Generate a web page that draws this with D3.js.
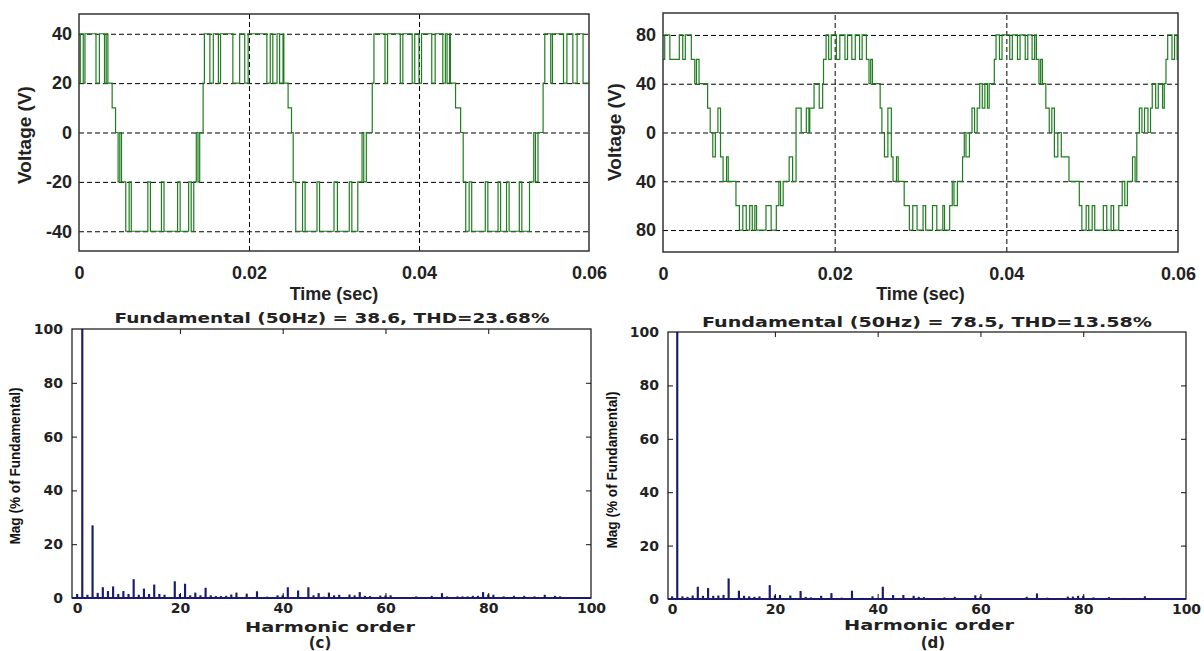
<!DOCTYPE html>
<html>
<head>
<meta charset="utf-8">
<script src="https://cdn.jsdelivr.net/npm/d3@7"></script>
<style>
body{margin:0;background:#fff}
svg{display:block}
</style>
</head>
<body>
<div id="fig"></div>
<script>
// ---- data ----
// time axis (ms internally, labelled in seconds)
var timeTicks = [0, 20, 40, 60];
var timeLabels = ["0", "0.02", "0.04", "0.06"];

// (a) 5-level output: [t ms, volts], step-after
var waveA = [
[0,20],[0.15,40],[0.5,20],[0.7,40],[2.0,20],[2.4,40],[3.0,20],[3.2,40],[3.4,20],
[3.9,10],[4.3,0],[4.6,-20],[4.8,0],[5.0,-20],[5.5,-40],[5.9,-20],[6.15,-40],
[8.1,-20],[8.4,-40],[9.7,-20],[10.0,-40],[11.6,-20],[11.9,-40],[12.9,-20],[13.2,-40],[13.5,-20],
[13.8,0],[14.0,-20],[14.2,0],[14.6,20],[14.75,40],[15.4,20],[15.8,40],[16.4,20],[16.65,40],
[18.1,20],[18.9,40],[19.5,20],[19.9,40],[22.1,20],[22.5,40],[22.8,20],[23.3,40],[23.6,20],[24.0,40],
[24.1,20],[24.6,10],[25.0,0],[25.2,-20],[25.5,-40],
[26.3,-20],[26.6,-40],[28.0,-20],[28.3,-40],[30.0,-20],[30.4,-40],[31.8,-20],[32.1,-40],[32.8,-20],
[33.3,0],[33.5,-20],[33.8,0],[34.5,20],[34.7,40],
[36.0,20],[36.3,40],[37.8,20],[38.1,40],[39.2,20],[39.5,40],[40.0,20],[40.3,40],[41.5,20],[41.9,40],
[42.8,20],[43.1,40],[43.3,20],[43.6,40],[43.7,20],[44.3,10],[44.9,0],[45.2,-20],[45.5,-40],
[45.9,-20],[46.2,-40],[47.8,-20],[48.1,-40],[49.3,-20],[49.6,-40],[50.3,-20],[50.6,-40],[51.8,-20],
[52.1,-40],[53.0,-20],[53.5,0],[53.7,-20],[54.0,0],[54.6,20],[54.8,40],
[55.5,20],[55.7,40],[57.0,20],[57.4,40],[58.1,20],[58.6,40],[59.3,20],[60,20]
];
var voltTicksA = [40, 20, 0, -20, -40];
var voltLabelsA = ["40", "20", "0", "-20", "-40"];

// (b) 9-level output: [t ms, volts], step-after
var waveB = [
[0,60],[0.2,80],[0.8,60],[1.9,80],[2.3,60],[2.6,80],[3.3,60],[3.7,40],[3.9,60],[4.2,40],
[5.2,20],[5.5,0],[5.8,-20],[6.1,0],[6.4,20],[6.7,-20],[7.0,-40],[7.4,-20],[7.6,-40],
[8.5,-60],[8.9,-80],[9.3,-60],[9.7,-80],[10.1,-60],[10.4,-80],[10.7,-60],[10.9,-80],[12.0,-60],
[12.6,-80],[13.2,-60],[13.5,-40],[13.7,-60],[14.0,-40],[14.7,-20],[15.1,-40],[15.5,20],[16.1,0],
[16.7,20],[17.0,0],[17.1,20],[17.6,40],[18.2,20],[18.6,40],[18.7,60],[19.0,80],[19.3,60],[19.6,80],
[20.2,60],[20.6,80],[21.2,60],[21.5,80],[22.0,60],[22.4,80],[22.9,60],[23.2,80],[23.7,60],
[24.0,40],[24.2,60],[24.4,40],[25.3,20],[25.5,0],[25.8,-20],[26.2,20],[26.6,-20],[26.8,-40],
[27.2,-20],[27.4,-40],[28.1,-60],[28.7,-80],[29.1,-60],[29.6,-80],[30.3,-60],[30.6,-80],[31.4,-60],
[31.9,-80],[32.6,-60],[32.8,-80],[33.4,-60],[33.7,-40],[33.9,-60],[34.3,-40],[34.9,-20],[35.1,0],
[35.3,-20],[35.7,0],[36.0,20],[36.3,0],[36.6,20],[36.9,40],[37.2,20],[37.5,40],[37.8,20],[38.0,40],
[38.6,60],[38.8,80],[39.2,60],[39.5,80],[40.4,60],[40.7,80],[41.3,60],[41.6,80],[42.2,60],[42.5,80],
[43.0,60],[43.3,80],[43.5,60],[43.8,40],[44.0,60],[44.2,40],[44.6,20],[45.0,0],[45.3,20],[45.6,-20],
[46.0,0],[46.4,-20],[47.3,-40],[48.5,-60],[48.8,-80],[49.3,-60],[49.6,-80],[50.0,-60],[50.3,-80],
[51.3,-60],[51.7,-80],[52.2,-60],[52.5,-80],[53.1,-60],[53.5,-40],[53.8,-60],[54.1,-40],[54.7,-20],
[55.0,-40],[55.2,0],[55.5,20],[55.8,0],[56.1,20],[56.5,0],[56.8,20],[57.0,40],[57.4,20],[57.7,40],
[58.2,20],[58.4,40],[58.6,60],[58.8,80],[59.3,60],[59.6,80],[59.9,60],[60,60]
];
var voltTicksB = [80, 40, 0, -40, -80];
var voltLabelsB = ["80", "40", "0", "40", "80"];

// (c) spectrum
var harmC = [0,1,2,3,4,5,6,7,8,9,10,11,12,13,14,15,16,17,19,20,21,22,23,24,25,26,27,28,29,30,
31,33,35,37,39,40,41,43,45,46,47,48,49,50,51,53,54,55,56,57,59,60,61,66,69,71,72,74,75,76,
77,78,79,80,81,83,85,87,89,91,93,94,97];
var magC = [1.5,100,1.2,27,1.9,4,2.6,4.3,1.5,2.6,1.5,7,1.2,3.5,1.5,5,1.5,1.2,6.2,1.5,
5.3,1,2,1,3.8,1,0.7,0.7,0.8,1.3,2,1.6,2.5,0.5,1,1,4,2.8,4,1,
1.8,0.5,2,1,1.2,1.3,1,2.2,0.8,0.7,0.9,0.9,1,0.6,0.8,1.8,0.6,0.6,0.6,0.6,
0.8,0.8,2.2,1.3,1.2,0.6,0.8,0.8,0.6,1.2,0.8,0.6,0.3];
// (d) spectrum
var harmD = [0,1,2,3,4,5,6,7,8,9,10,11,13,14,15,16,17,19,20,21,23,25,26,27,29,31,33,35,37,39,
41,43,45,47,48,49,53,55,59,60,69,71,73,77,78,79,80,82,85,88,92];
var magD = [1,100,1,0.8,1.3,4.6,1.2,4.1,1.2,1.3,1.5,7.7,3.1,1.2,1,0.8,1,5.2,1.3,1.5,
1.3,3,0.8,0.6,1.2,2.2,0.5,3.1,0.4,1,4.6,1.5,1.5,1.2,0.8,0.7,0.6,0.8,1.4,0.9,
0.8,2.1,0.5,0.9,0.9,1.2,1.2,0.6,0.7,0.4,1];
var harmTicks = [0, 20, 40, 60, 80, 100];
var magTicks = [0, 20, 40, 60, 80, 100];

var titleC = "Fundamental (50Hz) = 38.6, THD=23.68%";
var titleD = "Fundamental (50Hz) = 78.5, THD=13.58%";

// ---- drawing ----
var svg = d3.select("#fig").append("svg")
  .attr("width", 1204).attr("height", 651);
svg.append("rect").attr("width", 1204).attr("height", 651).attr("fill", "#fff");

var topFont = "'Liberation Sans', Arial, sans-serif";
var botFont = "'DejaVu Sans', Verdana, sans-serif";

function wavePanel(o){
  var x = d3.scaleLinear().domain([0, 60]).range([o.left, o.right]);
  var y = d3.scaleLinear().domain(o.ydom).range([o.bottom, o.top]);
  var g = svg.append("g");

  // dashed grid
  g.append("g").attr("transform", "translate(" + o.left + ",0)")
    .call(d3.axisLeft(y).tickValues(o.yticks).tickSize(-(o.right - o.left)).tickFormat(""))
    .call(s => s.select(".domain").remove())
    .selectAll("line").attr("stroke", "#000").attr("stroke-dasharray", "5,3");
  g.append("g").attr("transform", "translate(0," + o.bottom + ")")
    .call(d3.axisBottom(x).tickValues([20, 40]).tickSize(-(o.bottom - o.top)).tickFormat(""))
    .call(s => s.select(".domain").remove())
    .selectAll("line").attr("stroke", "#000").attr("stroke-dasharray", "5,3");

  var line = d3.line().x(d => x(d[0])).y(d => y(d[1])).curve(d3.curveStepAfter);
  g.append("path").datum(o.data).attr("d", line)
    .attr("fill", "none").attr("stroke", "#1f7d1f").attr("stroke-width", 1.2);

  g.append("rect").attr("x", o.left).attr("y", o.top)
    .attr("width", o.right - o.left).attr("height", o.bottom - o.top)
    .attr("fill", "none").attr("stroke", "#333").attr("stroke-width", 1.5);

  // tick labels
  var ay = g.append("g").attr("transform", "translate(" + o.left + ",0)")
    .call(d3.axisLeft(y).tickValues(o.yticks).tickSize(0).tickPadding(7)
      .tickFormat((d, i) => o.ylabels[i]));
  ay.select(".domain").remove();
  ay.selectAll("text").attr("font-family", topFont).attr("font-weight", "bold")
    .attr("font-size", 18).attr("fill", "#222");
  var ax = g.append("g").attr("transform", "translate(0," + o.bottom + ")")
    .call(d3.axisBottom(x).tickValues(timeTicks).tickSize(0).tickPadding(15)
      .tickFormat((d, i) => timeLabels[i]));
  ax.select(".domain").remove();
  ax.selectAll("text").attr("font-family", topFont).attr("font-weight", "bold")
    .attr("font-size", 18).attr("fill", "#222");

  g.append("text").attr("transform", "translate(" + o.ylabX + "," + o.ylabY + ") rotate(-90)")
    .attr("text-anchor", "middle").attr("font-family", topFont).attr("font-weight", "bold")
    .attr("font-size", 19).attr("fill", "#222").text("Voltage (V)");
  g.append("text").attr("x", (o.left + o.right) / 2).attr("y", 300)
    .attr("text-anchor", "middle").attr("font-family", topFont).attr("font-weight", "bold")
    .attr("font-size", 18).attr("fill", "#222").text("Time (sec)");
}

function spectrumPanel(o){
  var x = d3.scaleLinear().domain(o.xdom).range([o.left, o.right]);
  var y = d3.scaleLinear().domain([0, 100]).range([o.bottom, o.top]);
  var g = svg.append("g");
  var bw = x(0.42) - x(0);

  g.selectAll("rect.bar").data(o.harm).enter().append("rect")
    .attr("class", "bar")
    .attr("x", d => x(d) - bw / 2)
    .attr("y", (d, i) => y(o.mag[i]))
    .attr("width", bw)
    .attr("height", (d, i) => o.bottom - y(o.mag[i]))
    .attr("fill", "#1b1b6e");

  g.append("rect").attr("x", o.left).attr("y", o.top)
    .attr("width", o.right - o.left).attr("height", o.bottom - o.top)
    .attr("fill", "none").attr("stroke", "#111").attr("stroke-width", 1.2);
  g.append("line").attr("x1", o.left).attr("x2", o.right)
    .attr("y1", o.bottom).attr("y2", o.bottom)
    .attr("stroke", "#1b1b6e").attr("stroke-width", 2.2);

  // inward ticks on all sides
  [[d3.axisBottom, o.bottom], [d3.axisTop, o.top]].forEach(function(a){
    g.append("g").attr("transform", "translate(0," + a[1] + ")")
      .call(a[0](x).tickValues(harmTicks.slice(1, -1)).tickSize(-5).tickFormat(""))
      .call(s => s.select(".domain").remove())
      .selectAll("line").attr("stroke", "#111");
  });
  [[d3.axisLeft, o.left], [d3.axisRight, o.right]].forEach(function(a){
    g.append("g").attr("transform", "translate(" + a[1] + ",0)")
      .call(a[0](y).tickValues(magTicks.slice(1, -1)).tickSize(-5).tickFormat(""))
      .call(s => s.select(".domain").remove())
      .selectAll("line").attr("stroke", "#111");
  });

  var ay = g.append("g").attr("transform", "translate(" + o.left + ",0)")
    .call(d3.axisLeft(y).tickValues(magTicks).tickSize(0).tickPadding(9));
  ay.select(".domain").remove();
  ay.selectAll("text").attr("font-family", botFont).attr("font-weight", "bold")
    .attr("font-size", 14).attr("fill", "#222");
  var ax = g.append("g").attr("transform", "translate(0," + o.bottom + ")")
    .call(d3.axisBottom(x).tickValues(harmTicks).tickSize(0).tickPadding(5));
  ax.select(".domain").remove();
  ax.selectAll("text").attr("font-family", botFont).attr("font-weight", "bold")
    .attr("font-size", 14).attr("fill", "#222");

  g.append("text").attr("x", o.titleX).attr("y", o.titleY)
    .attr("text-anchor", "middle").attr("font-family", botFont).attr("font-weight", "bold")
    .attr("font-size", 14).attr("textLength", o.titleW).attr("lengthAdjust", "spacingAndGlyphs")
    .attr("fill", "#222").text(o.title);
  g.append("text").attr("transform", "translate(" + o.ylabX + "," + o.ylabY + ") rotate(-90)")
    .attr("text-anchor", "middle").attr("font-family", "'Liberation Sans Narrow', 'Liberation Sans', Arial, sans-serif")
    .attr("font-weight", "bold").attr("font-size", 15)
    .attr("textLength", 157).attr("lengthAdjust", "spacingAndGlyphs")
    .attr("fill", "#111").text("Mag (% of Fundamental)");
  g.append("text").attr("x", o.xlabX).attr("y", o.xlabY)
    .attr("text-anchor", "middle").attr("font-family", botFont).attr("font-weight", "bold")
    .attr("font-size", 14).attr("textLength", 170).attr("lengthAdjust", "spacingAndGlyphs")
    .attr("fill", "#222").text("Harmonic order");
  g.append("text").attr("x", o.capX).attr("y", 648)
    .attr("text-anchor", "middle").attr("font-family", botFont).attr("font-weight", "bold")
    .attr("font-size", 15).attr("fill", "#222").text(o.cap);
}

wavePanel({left: 79, right: 589, top: 14, bottom: 251, ydom: [-48, 48],
  yticks: voltTicksA, ylabels: voltLabelsA, data: waveA, ylabX: 31, ylabY: 135});
wavePanel({left: 663, right: 1178, top: 13, bottom: 252, ydom: [-98, 98],
  yticks: voltTicksB, ylabels: voltLabelsB, data: waveB, ylabX: 621, ylabY: 132});

spectrumPanel({left: 72, right: 591, top: 329, bottom: 598, xdom: [-1, 100],
  harm: harmC, mag: magC, title: titleC, titleX: 332, titleY: 323, titleW: 435,
  ylabX: 20, ylabY: 466, xlabX: 330, xlabY: 632, capX: 320, cap: "(c)"});
spectrumPanel({left: 668, right: 1186, top: 332, bottom: 599, xdom: [-0.8, 100],
  harm: harmD, mag: magD, title: titleD, titleX: 927, titleY: 327, titleW: 450,
  ylabX: 617, ylabY: 470, xlabX: 929, xlabY: 630, capX: 933, cap: "(d)"});
</script>
</body>
</html>
